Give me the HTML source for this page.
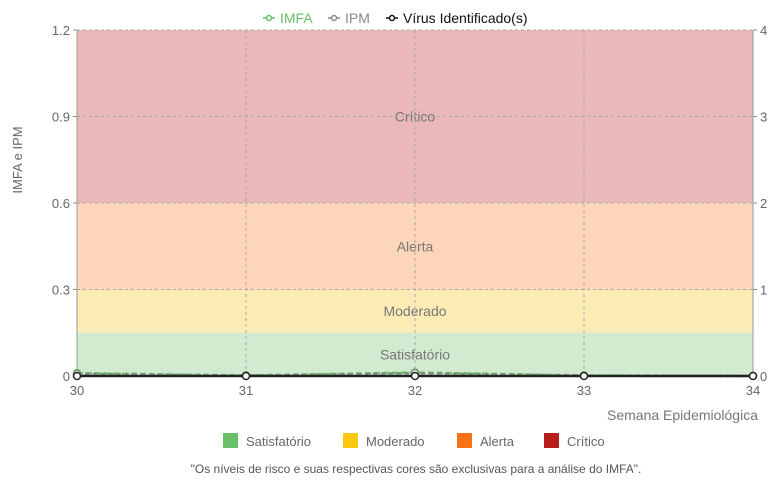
<!DOCTYPE html>
<html><head><meta charset="utf-8"><style>
body{margin:0;background:#fff;font-family:"Liberation Sans",sans-serif;}
svg text{font-family:"Liberation Sans",sans-serif;}
</style></head><body>
<svg id="c" width="774" height="484" xmlns="http://www.w3.org/2000/svg"></svg>
<script>
const weeks=[30,31,32,33,34];
const imfa=[0.01,0.002,0.012,0.002,0];
const ipm=[0.008,0.001,0.01,0.001,0];
const virus=[0,0,0,0,0];
const leftTicks=[0,0.3,0.6,0.9,1.2];
const rightTicks=[0,1,2,3,4];
const bands=[{name:'Satisfatório',from:0,to:0.15,fill:'#d2ead0',col:'#6abf69'},{name:'Moderado',from:0.15,to:0.3,fill:'#fbecb6',col:'#f9c912'},{name:'Alerta',from:0.3,to:0.6,fill:'#fdd6b9',col:'#f97316'},{name:'Crítico',from:0.6,to:1.2,fill:'#eab8b8',col:'#b91c1c'}];
const X0=77,X1=753,Y0=376,Y1=30;
const x=w=>X0+(w-30)/(34-30)*(X1-X0);
const y=v=>Y0-v/1.2*(Y0-Y1);
const yr=v=>Y0-v/4*(Y0-Y1);
const svg=document.getElementById('c');const NS='http://www.w3.org/2000/svg';
function mk(t,a,txt){const e=document.createElementNS(NS,t);for(const k in a)e.setAttribute(k,a[k]);if(txt!==undefined)e.textContent=txt;svg.appendChild(e);return e;}
bands.forEach(b=>{const r=mk('rect',{x:X0,y:y(b.to),width:X1-X0,height:y(b.from)-y(b.to),fill:b.fill});


const t=mk('text',{x:(X0+X1)/2,y:(y(b.from)+y(b.to))/2+5,'text-anchor':'middle','font-size':14,fill:'#777'},b.name);

});
leftTicks.forEach((v,i)=>{const g=mk('line',{x1:X0,x2:X1,y1:y(v),y2:y(v),stroke:'#aaa','stroke-dasharray':'3,3'});


const t=mk('text',{x:X0-7,y:y(v)+5,'text-anchor':'end','font-size':13,fill:'#666'},v===0?'0':v.toFixed(1));


mk('line',{x1:X0-4,x2:X0,y1:y(v),y2:y(v),stroke:'#888'});});
rightTicks.forEach(v=>{const t=mk('text',{x:X1+7,y:yr(v)+5,'font-size':13,fill:'#666'},String(v));


mk('line',{x1:X1,x2:X1+4,y1:yr(v),y2:yr(v),stroke:'#888'});});
weeks.forEach(w=>{const g=mk('line',{x1:x(w),x2:x(w),y1:Y1,y2:Y0,stroke:'#aaa','stroke-dasharray':'3,3'});


const t=mk('text',{x:x(w),y:Y0+19,'text-anchor':'middle','font-size':13,fill:'#666'},String(w));

});
mk('line',{x1:X0,x2:X0,y1:Y1,y2:Y0,stroke:'#999'});mk('line',{x1:X1,x2:X1,y1:Y1,y2:Y0,stroke:'#999'});
function series(vals,fn,col,name,dash){const p=mk('polyline',{points:vals.map((v,i)=>x(weeks[i])+','+fn(v)).join(' '),fill:'none',stroke:col,'stroke-width':2.5,'stroke-dasharray':dash||''});


vals.forEach((v,i)=>{const c=mk('circle',{cx:x(weeks[i]),cy:fn(v),r:3.5,fill:'#fff',stroke:col,'stroke-width':1.5});

});}
series(imfa,y,'#6abf69','imfa','6,3');
series(ipm,y,'#888','ipm','4,4');
series(virus,yr,'#222','virus');
let t=mk('text',{x:22,y:160,'text-anchor':'middle','font-size':13,fill:'#666',transform:'rotate(-90 22 160)'},'IMFA e IPM');

t=mk('text',{x:758,y:420,'text-anchor':'end','font-size':14,fill:'#777'},'Semana Epidemiológica');

const leg=[['IMFA','#6abf69',263],['IPM','#888',328],['Vírus Identificado(s)','#111',386]];
leg.forEach(l=>{mk('line',{x1:l[2],x2:l[2]+12,y1:18,y2:18,stroke:l[1],'stroke-width':1.5});mk('circle',{cx:l[2]+6,cy:18,r:2.5,fill:'#fff',stroke:l[1],'stroke-width':1.5});
const e=mk('text',{x:l[2]+17,y:23,'font-size':14,fill:l[1]==='#111'?'#111':l[1]},l[0]);

});
const bl=[223,343,457,544];
bands.forEach((b,i)=>{const r=mk('rect',{x:bl[i],y:433,width:15,height:15,fill:b.col});


const e=mk('text',{x:bl[i]+23,y:446,'font-size':13,fill:'#666'},b.name);

});
t=mk('text',{x:416,y:473,'text-anchor':'middle','font-size':12,fill:'#555'},'"Os níveis de risco e suas respectivas cores são exclusivas para a análise do IMFA".');

</script>
</body></html>
